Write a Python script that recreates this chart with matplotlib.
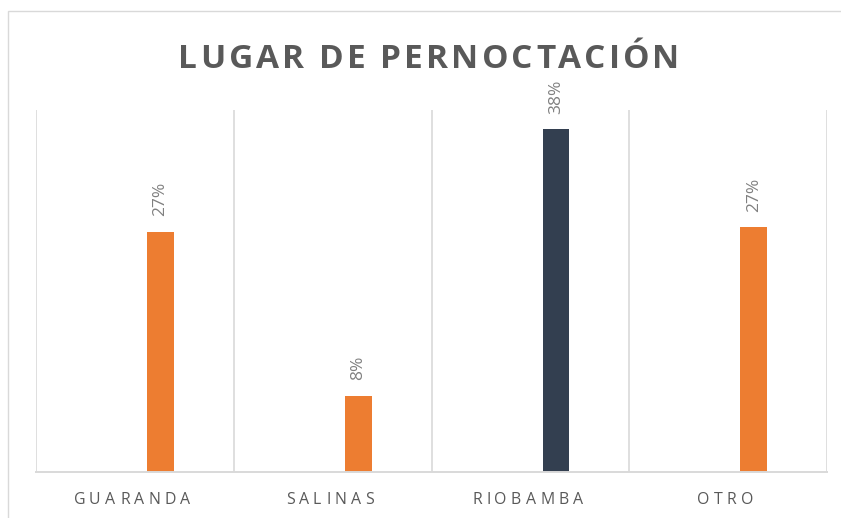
import matplotlib
matplotlib.use("Agg")
import matplotlib.pyplot as plt
from matplotlib.font_manager import FontProperties, findfont, get_font
from matplotlib.patches import Rectangle

categories = ["GUARANDA", "SALINAS", "RIOBAMBA", "OTRO"]
values = [0.2655, 0.084, 0.379, 0.27]
bar_colors = ["#ED7D31", "#ED7D31", "#333F50", "#ED7D31"]
title = "LUGAR DE PERNOCTACIÓN"

W, H, DPI = 841, 518, 100
fig = plt.figure(figsize=(W / DPI, H / DPI), dpi=DPI)
fig.patch.set_facecolor("white")

# outer chart border (light gray)
fig.patches.append(Rectangle((8 / W, -0.05), 1.0, (1 - 11 / H) + 0.05,
                             transform=fig.transFigure, fill=False,
                             edgecolor="#d9d9d9", linewidth=1.0))

left, right, top, bottom = 36, 827, 110, 471.5
ax = fig.add_axes([left / W, (H - bottom) / H, (right - left) / W, (bottom - top) / H])
ax.set_xlim(-0.5, len(categories) - 0.5)
ax.set_ylim(0, 0.40)
for s in ["top", "right", "left"]:
    ax.spines[s].set_visible(False)
ax.spines["bottom"].set_color("#d9d9d9")
ax.spines["bottom"].set_linewidth(1.4)
ax.set_yticks([])
ax.set_xticks([])
for b in range(len(categories) + 1):
    ax.axvline(b - 0.5, color="#d9d9d9", linewidth=1.2, zorder=0)

xs = [i + 0.13 for i in range(len(categories))]
ax.bar(xs, values, width=0.135, color=bar_colors, zorder=2)

for x, v in zip(xs, values):
    ax.annotate(f"{round(v * 100):d}%", (x, v), xytext=(0, 11), textcoords="offset points",
                rotation=90, ha="center", va="bottom", fontsize=12.5,
                family="Open Sans", color="#808080")


def spaced_text(cx, y, s, size, spacing, weight, color):
    prop = FontProperties(family="Open Sans", size=size, weight=weight)
    font = get_font(findfont(prop))
    font.set_size(size, DPI)
    advs = []
    for c in s:
        g = font.load_char(ord(c))
        advs.append(g.linearHoriAdvance / 65536.0)
    total = sum(advs) + spacing * (len(s) - 1)
    x = cx - total / 2
    for c, adv in zip(s, advs):
        if c.strip():
            fig.text(round(x) / W, 1 - y / H, c, fontproperties=prop, color=color,
                     ha="left", va="baseline")
        x += adv + spacing


spaced_text(429, 67.5, title, 24, 3.1, "bold", "#595959")

for i, c in enumerate(categories):
    cx_px = ax.transData.transform((i, 0))[0]
    spaced_text(cx_px - 3, 504, c, 11.4, 4.3, "normal", "#595959")

fig.savefig("out.png", dpi=DPI)
